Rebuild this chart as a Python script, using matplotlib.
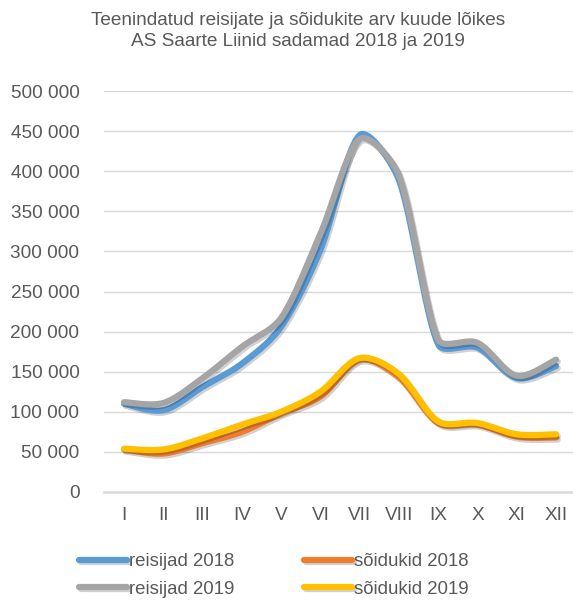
import numpy as np
import matplotlib
matplotlib.use("Agg")
import matplotlib.pyplot as plt
import matplotlib.patheffects as pe
from matplotlib.ticker import FuncFormatter

months = ["I", "II", "III", "IV", "V", "VI", "VII", "VIII", "IX", "X", "XI", "XII"]
reisijad_2018 = [110000, 102000, 131000, 160000, 206000, 302000, 445000, 389000, 184000, 180000, 142000, 157000]
reisijad_2019 = [112000, 111000, 142000, 181000, 217000, 322000, 440000, 395000, 190000, 186000, 145000, 165000]
soidukid_2018 = [53000, 48000, 61000, 75000, 98000, 119000, 165000, 143000, 86000, 84000, 69000, 68000]
soidukid_2019 = [54000, 53000, 67000, 84000, 100000, 125000, 167000, 147000, 88000, 86000, 72000, 72000]
y_ticks = list(range(0, 500001, 50000))

title = "Teenindatud reisijate ja sõidukite arv kuude lõikes\nAS Saarte Liinid sadamad 2018 ja 2019"

plt.rcParams['font.family'] = ['Liberation Sans', 'DejaVu Sans']
TXT = "#595959"


def smooth(ax, xs, ys, n=40):
    """Bezier smoothing through the points, computed in display space."""
    p = ax.transData.transform(np.column_stack([xs, ys]).astype(float))
    P = np.vstack([p[0], p, p[-1]])
    out = []
    for i in range(1, len(P) - 2):
        p0, p1, p2, p3 = P[i - 1], P[i], P[i + 1], P[i + 2]
        d01 = np.linalg.norm(p1 - p0)
        d12 = np.linalg.norm(p2 - p1)
        d23 = np.linalg.norm(p3 - p2)
        f1 = min(0.5, d12 / (d01 + d12)) if d01 + d12 > 0 else 0
        f2 = min(0.5, d12 / (d12 + d23)) if d12 + d23 > 0 else 0
        c1 = p1 + (p2 - p0) * f1 / 3.0
        c2 = p2 - (p3 - p1) * f2 / 3.0
        t = np.linspace(0, 1, n)[:, None]
        seg = ((1 - t) ** 3) * p1 + 3 * ((1 - t) ** 2) * t * c1 + 3 * (1 - t) * t ** 2 * c2 + t ** 3 * p2
        out.append(seg if i == 1 else seg[1:])
    out = ax.transData.inverted().transform(np.vstack(out))
    return out[:, 0], out[:, 1]


fig = plt.figure(figsize=(5.73, 6.0), dpi=100)
ax = fig.add_axes([104.4 / 573, 1 - 492 / 600, 471.3 / 573, 401 / 600])
x = np.arange(len(months))
ax.set_xlim(-0.5, 11.5)
ax.set_ylim(0, 500000)

series = [
    (reisijad_2018, "#5B9BD5", "reisijad 2018"),
    (soidukid_2018, "#ED7D31", "sõidukid 2018"),
    (reisijad_2019, "#A5A5A5", "reisijad 2019"),
    (soidukid_2019, "#FFC000", "sõidukid 2019"),
]
handles = {}
for i, (vals, col, lab) in enumerate(series):
    sx, sy = smooth(ax, x, vals)
    ln, = ax.plot(sx, sy, color=col, lw=4.5, solid_capstyle="round", label=lab, zorder=3 + i,
                  path_effects=[pe.SimpleLineShadow(offset=(1.2, -1.5), shadow_color="black", alpha=0.18),
                                pe.Normal()])
    handles[lab] = ln

ax.set_xlim(-0.5, 11.5)
ax.set_ylim(0, 500000)
ax.set_yticks(y_ticks)
ax.yaxis.set_major_formatter(FuncFormatter(lambda v, p: f"{int(v):,}".replace(",", " ")))
ax.set_xticks(x)
ax.set_xticklabels(months)
ax.grid(axis="y", color="#d9d9d9", lw=1.0)
ax.set_axisbelow(True)
for s in ["top", "right", "left"]:
    ax.spines[s].set_visible(False)
ax.spines["bottom"].set_color("#d9d9d9")
ax.spines["bottom"].set_linewidth(1.8)
ax.tick_params(axis="both", length=0, labelsize=13.7, labelcolor=TXT)
ax.tick_params(axis="y", pad=18)
ax.tick_params(axis="x", pad=10.5)

fig.text(298 / 573, 1 - 12 / 600, title, ha="center", va="top", fontsize=13.7, color=TXT, linespacing=1.32)

order = ["reisijad 2018", "reisijad 2019", "sõidukid 2018", "sõidukid 2019"]
leg = fig.legend([handles[k] for k in order], order, ncol=2, loc="upper left",
                 bbox_to_anchor=(79 / 573, 1 - 553 / 600), frameon=False, fontsize=13.4,
                 handlelength=2.6, handletextpad=0.1, columnspacing=3.72, labelspacing=0.58,
                 borderpad=0, borderaxespad=0)
for t in leg.get_texts():
    t.set_color(TXT)

fig.savefig("out.png", dpi=100)
